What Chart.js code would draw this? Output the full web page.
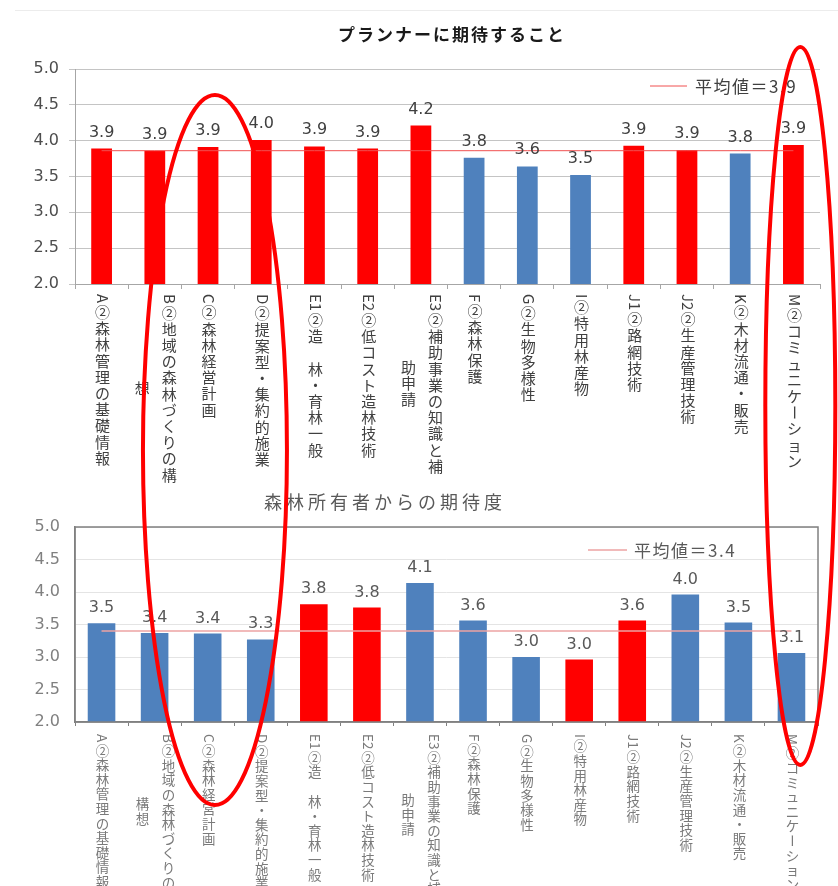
<!DOCTYPE html>
<html lang="ja">
<head>
<meta charset="utf-8">
<title>プランナーに期待すること／森林所有者からの期待度</title>
<script src="https://cdn.jsdelivr.net/npm/chart.js@4.4.1/dist/chart.umd.min.js"></script>
<style>
  html, body { margin: 0; padding: 0; background: #fff; }
  #page { position: relative; width: 838px; height: 886px; overflow: hidden; background: #fff; }
  #page canvas { position: absolute; left: 0; }
  #plannerChart { top: 0; }
  #ownerChart { top: 480px; }
  #circles { top: 0; pointer-events: none; }
  .rule { position: absolute; left: 15px; right: 0; top: 10px; height: 1px; background: #ececec; }
</style>
</head>
<body>
<div id="page">
  <div class="rule"></div>
  <canvas id="plannerChart" width="838" height="500"></canvas>
  <canvas id="ownerChart" width="838" height="406"></canvas>
  <canvas id="circles" width="838" height="886"></canvas>
</div>
<script>
// Category names; "\n" starts a new vertical column of the label.
const categoriesPlanner = [
  'A②森林管理の基礎情報',
  'B②地域の森林づくりの構\n想',
  'C②森林経営計画',
  'D②提案型・集約的施業',
  'E1②造　林・育林一般',
  'E2②低コスト造林技術',
  'E3②補助事業の知識と補\n助申請',
  'F②森林保護',
  'G②生物多様性',
  'I②特用林産物',
  'J1②路網技術',
  'J2②生産管理技術',
  'K②木材流通・販売',
  'M②コミュニケーション'
];
const categoriesOwner = [
  'A②森林管理の基礎情報',
  'B②地域の森林づくりの\n構想',
  'C②森林経営計画',
  'D②提案型・集約的施業',
  'E1②造　林・育林一般',
  'E2②低コスト造林技術',
  'E3②補助事業の知識と補\n助申請',
  'F②森林保護',
  'G②生物多様性',
  'I②特用林産物',
  'J1②路網技術',
  'J2②生産管理技術',
  'K②木材流通・販売',
  'M②コミュニケーション'
];

// Average scores per item
const plannerScores = [3.89, 3.86, 3.91, 4.01, 3.92, 3.89, 4.21, 3.76, 3.64, 3.52, 3.93, 3.87, 3.82, 3.94];
const ownerScores   = [3.52, 3.37, 3.36, 3.27, 3.81, 3.76, 4.14, 3.56, 3.00, 2.96, 3.56, 3.96, 3.53, 3.06];

// Overall means
const plannerAverage = 3.86;
const ownerAverage = 3.40;

// Highlighted items (1 = highlighted)
const plannerHighlight = [1, 1, 1, 1, 1, 1, 1, 0, 0, 0, 1, 1, 0, 1];
const ownerHighlight   = [0, 0, 0, 0, 1, 1, 0, 0, 0, 1, 1, 0, 0, 0];

const RED = '#ff0000';
const BLUE = '#4f81bd';
const CJK = '"Noto Sans CJK JP", "Noto Sans", sans-serif';
const NUM = '"DejaVu Sans", "Liberation Sans", sans-serif';

// ---- vertical label helpers -------------------------------------------
const LATIN = /[A-Za-z0-9]/;
function splitRuns(str) {
  const runs = [];
  let buf = '';
  for (const ch of str) {
    if (LATIN.test(ch)) { buf += ch; continue; }
    if (buf) { runs.push({ text: buf, rotate: true, latin: true }); buf = ''; }
    runs.push({ text: ch, rotate: ch === 'ー', latin: false });
  }
  if (buf) runs.push({ text: buf, rotate: true, latin: true });
  return runs;
}
function runLength(ctx, run, pitch) {
  return run.latin ? ctx.measureText(run.text).width + 2 : pitch;
}

// ---- plugins ------------------------------------------------------------
const verticalCategories = {
  id: 'verticalCategories',
  afterDraw(chart, args, o) {
    const ctx = chart.ctx;
    const xs = chart.scales.x;
    const top = chart.chartArea.bottom + o.offset;
    ctx.save();
    ctx.font = o.font;
    ctx.fillStyle = o.color;
    ctx.textAlign = 'center';
    ctx.textBaseline = 'middle';
    chart.data.labels.forEach((label, i) => {
      const cols = String(label).split('\n').map(splitRuns);
      const heights = cols.map(c => c.reduce((s, r) => s + runLength(ctx, r, o.pitch), 0));
      const H = Math.max(...heights);
      const cx = xs.getPixelForValue(i);
      cols.forEach((runs, k) => {
        const x = cx + ((cols.length - 1) / 2 - k) * o.columnGap + o.shift;
        let y = top + (H - heights[k]) / 2;
        runs.forEach(r => {
          const len = runLength(ctx, r, o.pitch);
          if (r.rotate) {
            ctx.save();
            ctx.translate(x, y + len / 2);
            ctx.rotate(Math.PI / 2);
            ctx.fillText(r.text, 0, 0);
            ctx.restore();
          } else {
            ctx.fillText(r.text, x, y + len / 2);
          }
          y += len;
        });
      });
    });
    ctx.restore();
  }
};

const barValueLabels = {
  id: 'barValueLabels',
  afterDatasetsDraw(chart, args, o) {
    const ctx = chart.ctx;
    const ds = chart.data.datasets[0];
    const meta = chart.getDatasetMeta(0);
    ctx.save();
    ctx.font = o.font;
    ctx.fillStyle = o.color;
    ctx.textAlign = 'center';
    ctx.textBaseline = 'alphabetic';
    meta.data.forEach((bar, i) => {
      ctx.fillText(ds.data[i].toFixed(1), bar.x, bar.y - o.gap);
    });
    ctx.restore();
  }
};

const heading = {
  id: 'heading',
  afterDraw(chart, args, o) {
    const ctx = chart.ctx;
    ctx.save();
    ctx.font = o.font;
    ctx.fillStyle = o.color;
    ctx.letterSpacing = o.spacing;
    ctx.textAlign = 'center';
    ctx.textBaseline = 'middle';
    ctx.fillText(o.text, o.x, o.y);
    ctx.restore();
  }
};

const meanLegend = {
  id: 'meanLegend',
  afterDraw(chart, args, o) {
    const ctx = chart.ctx;
    const ds = chart.data.datasets[1];
    ctx.save();
    ctx.strokeStyle = ds.borderColor;
    ctx.lineWidth = ds.borderWidth;
    ctx.beginPath();
    ctx.moveTo(o.x, o.y);
    ctx.lineTo(o.x + o.lineLength, o.y);
    ctx.stroke();
    ctx.font = o.font;
    ctx.fillStyle = o.color;
    ctx.letterSpacing = o.spacing;
    ctx.textAlign = 'left';
    ctx.textBaseline = 'middle';
    ctx.fillText(ds.label, o.x + o.lineLength + o.textGap, o.y + 1);
    ctx.restore();
  }
};

const plotFrame = {
  id: 'plotFrame',
  afterDraw(chart, args, o) {
    if (!o.color) return;
    const a = chart.chartArea;
    const ctx = chart.ctx;
    ctx.save();
    ctx.strokeStyle = o.color;
    ctx.lineWidth = o.width;
    ctx.strokeRect(a.left, a.top, a.right - a.left, a.bottom - a.top);
    ctx.restore();
  }
};

// ---- chart factory ------------------------------------------------------
function buildChart(canvas, s) {
  return new Chart(canvas, {
    data: {
      labels: s.categories,
      datasets: [
        {
          type: 'bar',
          data: s.scores,
          backgroundColor: s.highlight.map(h => (h ? RED : BLUE)),
          borderWidth: 0,
          barPercentage: s.barPercentage,
          categoryPercentage: 1,
          order: 2
        },
        {
          type: 'line',
          label: '平均値＝' + s.average.toFixed(1),
          data: s.categories.map(() => s.average),
          borderColor: s.meanColor,
          borderWidth: s.meanWidth,
          pointRadius: 0,
          fill: false,
          order: 1
        }
      ]
    },
    options: {
      responsive: false,
      animation: false,
      events: [],
      layout: { padding: s.padding },
      scales: {
        x: {
          grid: {
            offset: true,
            drawOnChartArea: false,
            drawTicks: true,
            tickLength: s.xTickLength,
            color: s.axisColor
          },
          border: { color: s.axisColor, width: s.axisWidth },
          ticks: { display: false },
          afterFit: scale => { scale.height = s.xHeight; }
        },
        y: {
          min: 2,
          max: 5,
          grid: {
            color: s.gridColor,
            drawTicks: s.yTickLength > 0,
            tickLength: s.yTickLength,
            lineWidth: 1
          },
          border: { color: s.axisColor, width: s.axisWidth },
          ticks: {
            stepSize: 0.5,
            padding: s.yPadding,
            color: s.tickColor,
            font: { family: NUM, size: 16 },
            callback: v => Number(v).toFixed(1)
          },
          afterFit: scale => { scale.width = 75; }
        }
      },
      plugins: {
        legend: { display: false },
        title: { display: false },
        tooltip: { enabled: false },
        verticalCategories: s.labelStyle,
        barValueLabels: s.valueStyle,
        heading: s.heading,
        meanLegend: s.legend,
        plotFrame: s.frame
      }
    },
    plugins: [plotFrame, verticalCategories, barValueLabels, heading, meanLegend]
  });
}

const plannerChart = buildChart(document.getElementById('plannerChart'), {
  categories: categoriesPlanner,
  scores: plannerScores,
  highlight: plannerHighlight,
  average: plannerAverage,
  barPercentage: 0.39,
  meanColor: '#f05050',
  meanWidth: 1,
  padding: { left: 0, right: 18, top: 69, bottom: 0 },
  xHeight: 216,
  xTickLength: 5,
  yTickLength: 6,
  yPadding: 10,
  axisColor: '#a6a6a6',
  axisWidth: 1,
  gridColor: '#c4c4c4',
  tickColor: '#4d4d4d',
  labelStyle: { font: '15px ' + CJK, color: '#404040', pitch: 16.2, columnGap: 27, offset: 9, shift: 1 },
  valueStyle: { font: '16px ' + NUM, color: '#404040', gap: 12 },
  heading: { text: 'プランナーに期待すること', x: 452, y: 35, font: '600 17px ' + CJK, color: '#1a1a1a', spacing: '2px' },
  legend: { x: 650, y: 86, lineLength: 37, textGap: 8, font: '17px ' + CJK, color: '#404040', spacing: '1.5px' },
  frame: { color: null }
});

const ownerChart = buildChart(document.getElementById('ownerChart'), {
  categories: categoriesOwner,
  scores: ownerScores,
  highlight: ownerHighlight,
  average: ownerAverage,
  barPercentage: 0.52,
  meanColor: '#eda3a3',
  meanWidth: 1.5,
  padding: { left: 0, right: 20, top: 47, bottom: 0 },
  xHeight: 164,
  xTickLength: 4,
  yTickLength: 0,
  yPadding: 15,
  axisColor: '#808080',
  axisWidth: 1.5,
  gridColor: '#e4e4e4',
  tickColor: '#808080',
  labelStyle: { font: '13.5px ' + CJK, color: '#7a7a7a', pitch: 14.6, columnGap: 26, offset: 11, shift: 1 },
  valueStyle: { font: '16px ' + NUM, color: '#595959', gap: 11 },
  heading: { text: '森林所有者からの期待度', x: 385, y: 22, font: '18px ' + CJK, color: '#595959', spacing: '4px' },
  legend: { x: 588, y: 70, lineLength: 39, textGap: 7, font: '17px ' + CJK, color: '#595959', spacing: '1.5px' },
  frame: { color: '#808080', width: 1.5 }
});

// ---- hand-drawn red ovals over both charts --------------------------------
(function drawOvals() {
  const ctx = document.getElementById('circles').getContext('2d');
  const xs = plannerChart.scales.x;
  const band = xs.getPixelForValue(1) - xs.getPixelForValue(0);
  ctx.strokeStyle = RED;
  ctx.lineWidth = 4;
  const ovals = [
    { cx: xs.getPixelForValue(2) + band * 0.13, cy: 450, rx: 72, ry: 355 },
    { cx: xs.getPixelForValue(13) + band * 0.13, cy: 406, rx: 35, ry: 359 }
  ];
  ovals.forEach(o => {
    ctx.beginPath();
    ctx.ellipse(o.cx, o.cy, o.rx, o.ry, 0, 0, Math.PI * 2);
    ctx.stroke();
  });
})();
</script>
</body>
</html>
